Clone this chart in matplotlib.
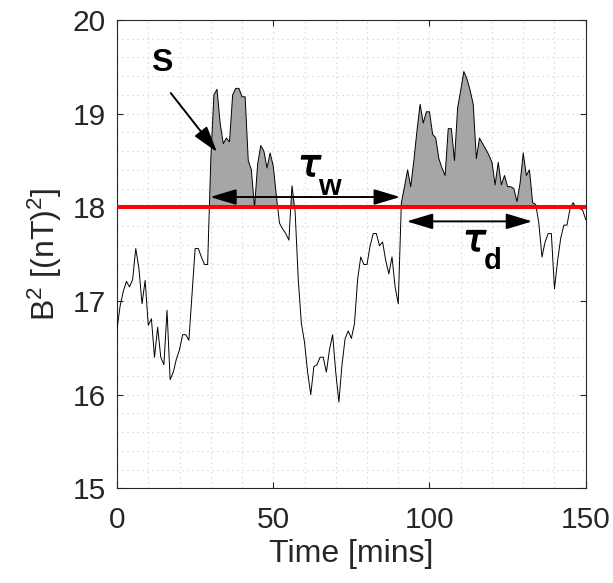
import numpy as np
import matplotlib
matplotlib.use("Agg")
import matplotlib.pyplot as plt
import matplotlib.patheffects as pe

# ---- data ----
time_min = list(range(0, 151))
b2 = [16.70, 16.95, 17.10, 17.21, 17.15, 17.23, 17.56, 17.35, 16.97, 17.22,
      16.74, 16.81, 16.40, 16.72, 16.40, 16.32, 16.90, 16.16, 16.24, 16.38,
      16.48, 16.64, 16.64, 16.58, 17.07, 17.56, 17.56, 17.47, 17.39, 17.39,
      18.50, 19.20, 19.26, 18.90, 18.68, 18.74, 18.70, 19.20, 19.27, 19.27,
      19.18, 19.18, 18.50, 18.40, 17.99, 18.46, 18.66, 18.60, 18.42, 18.58,
      18.44, 18.12, 17.83, 17.77, 17.72, 17.65, 18.23, 17.95, 17.23, 16.76,
      16.56, 16.24, 16.00, 16.30, 16.32, 16.40, 16.40, 16.24, 16.48, 16.64,
      16.24, 15.92, 16.32, 16.60, 16.68, 16.60, 16.76, 17.23, 17.47, 17.39,
      17.39, 17.59, 17.72, 17.72, 17.59, 17.63, 17.43, 17.29, 17.47, 17.15,
      16.97, 18.05, 18.22, 18.40, 18.22, 18.50, 18.82, 19.10, 18.90, 19.02,
      19.02, 18.78, 18.74, 18.52, 18.42, 18.34, 18.84, 18.84, 18.50, 19.06,
      19.25, 19.45, 19.37, 19.25, 19.10, 18.52, 18.74, 18.68, 18.62, 18.56,
      18.48, 18.24, 18.48, 18.24, 18.34, 18.22, 18.22, 18.20, 18.06, 18.26,
      18.58, 18.34, 18.40, 18.05, 18.03, 17.83, 17.47, 17.63, 17.72, 17.72,
      17.13, 17.43, 17.67, 17.81, 17.81, 17.99, 18.05, 17.99, 17.99, 17.97,
      17.87]
threshold = 18.0
xticks = [0, 50, 100, 150]
yticks = [15, 16, 17, 18, 19, 20]

plt.rcParams['font.family'] = ['Liberation Sans', 'DejaVu Sans']
plt.rcParams['mathtext.default'] = 'regular'

txt = '#262626'
fig = plt.figure(figsize=(6.13, 5.83), dpi=100)
ax = fig.add_axes([0.1909, 0.1624, 0.7646, 0.8033])

t = np.array(time_min, dtype=float)
y = np.array(b2)
ax.fill_between(t, threshold, y, where=y >= threshold, interpolate=True,
                color='#a6a6a6', lw=0, zorder=2)
ax.plot(t, y, color='k', lw=0.7, zorder=3)
ax.axhline(threshold, color='#ff0000', lw=2.9, zorder=4)

ax.set_xlim(0, 150)
ax.set_ylim(15, 20)
ax.set_xticks(xticks)
ax.set_yticks(yticks)
ax.set_xticks(np.arange(0, 151, 10), minor=True)
ax.set_yticks(np.arange(15, 20.01, 0.2), minor=True)
ax.grid(True, which='both', linestyle=(0, (1, 3.5)), color='#cccccc', lw=0.8, zorder=0)
ax.tick_params(which='major', direction='in', length=4, width=0.8, colors=txt,
               labelsize=21.5, top=True, right=True)
ax.tick_params(axis='x', which='major', pad=13)
ax.tick_params(axis='y', which='major', pad=8)
ax.tick_params(which='minor', length=0)
for s in ax.spines.values():
    s.set_color(txt)
    s.set_linewidth(0.8)

ax.set_xlabel('Time [mins]', fontsize=23, color=txt, labelpad=3)
ax.set_ylabel('B$^2$ [(nT)$^2$]', fontsize=23, color=txt, labelpad=6)

# annotations
ap = dict(arrowstyle='-|>,head_length=1.0,head_width=0.3', lw=1.4, color='k',
          mutation_scale=16, shrinkA=0, shrinkB=0)
ax.annotate('', xy=(32.0, 18.59), xytext=(17.2, 19.22), arrowprops=ap, zorder=6)
ax.text(14.3, 19.54, 'S', fontsize=23, fontweight='bold', ha='center', va='center', zorder=6)

ap2 = dict(arrowstyle='<|-|>,head_length=1.0,head_width=0.3', lw=1.4, color='k',
           mutation_scale=16, shrinkA=0, shrinkB=0)
ax.annotate('', xy=(90.6, 18.11), xytext=(29.8, 18.11), arrowprops=ap2, zorder=6)
ax.annotate('', xy=(132.9, 17.85), xytext=(92.7, 17.85), arrowprops=ap2, zorder=6)

thick = [pe.withStroke(linewidth=1.0, foreground='k')]
tau_kw = dict(fontsize=27, fontweight='normal', style='italic', family='DejaVu Sans',
              ha='center', va='center', zorder=6, path_effects=thick)
sub_kw = dict(fontsize=21, fontweight='bold', ha='center', va='center', zorder=6)
ax.text(61.6, 18.44, '\u03c4', **tau_kw)
ax.text(68.0, 18.22, 'w', **sub_kw)
ax.text(114.4, 17.64, '\u03c4', **tau_kw)
ax.text(120.2, 17.43, 'd', **sub_kw)

fig.savefig('out.png', dpi=100)
